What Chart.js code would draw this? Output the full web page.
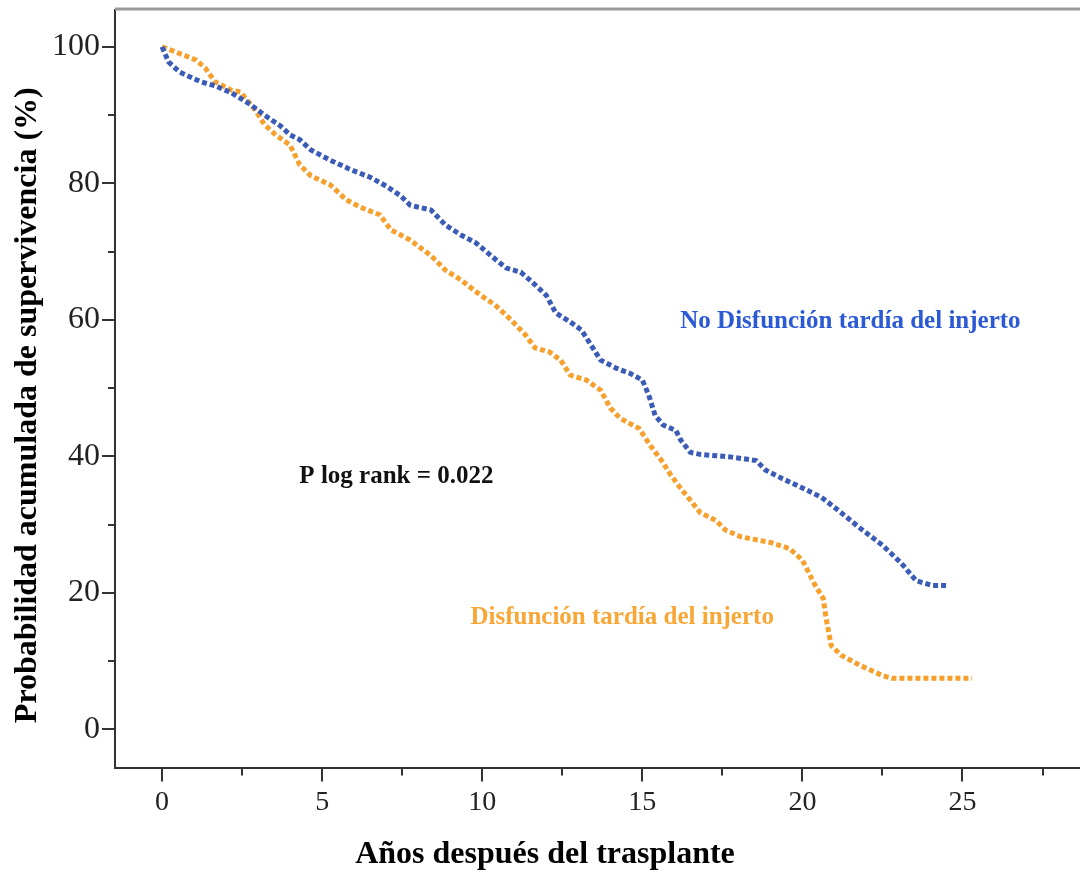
<!DOCTYPE html>
<html>
<head>
<meta charset="utf-8">
<script src="https://cdn.jsdelivr.net/npm/chart.js@4"></script>
<style>
    html, body { margin: 0; padding: 0; background: #fff; }
    #wrap { width: 1080px; height: 872px; }
</style>
</head>
<body>
<div id="wrap"><canvas id="survivalChart"></canvas></div>
<script>
// ===== SURVIVAL CURVES (Kaplan-Meier) =====

// No late graft dysfunction
const noDysfYears = [0, 0.2, 0.55, 1.2, 1.65, 2.15, 2.75, 3.2, 3.7, 4.0, 4.3, 4.65, 5.25, 5.9, 6.5,
    7.0, 7.45, 7.75, 8.4, 8.85, 9.35, 9.8, 10.25, 10.75, 11.2, 11.5, 12.0, 12.3, 12.75, 13.1,
    13.4, 13.7, 14.2, 14.6, 15.0, 15.2, 15.4, 15.65, 16.05, 16.2, 16.5, 16.8, 17.8, 18.55, 18.85,
    19.35, 19.95, 20.6, 21.2, 21.8, 22.5, 23.1, 23.55, 24.05, 24.5];
const noDysfSurv = [100, 97.8, 96.3, 94.9, 94.3, 93.3, 91.6, 90.0, 88.4, 87.1, 86.4, 84.9, 83.4, 82.0, 80.9,
    79.6, 78.2, 76.8, 76.1, 73.9, 72.4, 71.3, 69.5, 67.6, 67.0, 65.8, 63.6, 61.0, 59.7, 58.5,
    56.3, 54.1, 52.9, 52.2, 51.2, 49.0, 46.0, 44.6, 43.8, 42.4, 40.6, 40.3, 39.9, 39.4, 38.0,
    36.8, 35.5, 34.0, 31.8, 29.5, 27.0, 24.3, 21.8, 21.1, 21.1];

// Late graft dysfunction
const dysfYears = [0, 0.4, 1.05, 1.35, 1.65, 2.15, 2.45, 2.6, 2.9, 3.2, 3.55, 4.0, 4.3, 4.65, 5.25,
    5.75, 6.2, 6.8, 7.15, 7.75, 8.4, 8.85, 9.35, 9.95, 10.4, 10.9, 11.35, 11.65, 12.1, 12.45,
    12.75, 13.25, 13.7, 14.0, 14.3, 14.9, 15.25, 15.6, 15.9, 16.2, 16.5, 16.8, 17.3, 17.6, 18.1,
    19.0, 19.6, 20.0, 20.4, 20.65, 20.75, 20.9, 21.2, 21.8, 22.5, 22.8, 25.3];
const dysfSurv = [100, 99.3, 98.1, 96.9, 94.9, 93.7, 93.4, 92.5, 90.8, 88.6, 87.1, 85.6, 82.7, 81.1, 79.8,
    77.6, 76.5, 75.4, 73.2, 71.7, 69.4, 67.3, 65.8, 63.6, 62.2, 60.0, 57.8, 55.9, 55.3, 54.1,
    51.9, 51.2, 49.7, 47.1, 45.6, 44.1, 41.6, 39.4, 37.2, 35.3, 33.6, 31.8, 30.6, 29.2, 28.2,
    27.4, 26.5, 24.8, 21.1, 19.2, 16.0, 12.3, 10.9, 9.4, 7.9, 7.5, 7.5];

const xTicks = [0, 2.5, 5, 7.5, 10, 12.5, 15, 17.5, 20, 22.5, 25, 27.5];
const yTicks = [0, 10, 20, 30, 40, 50, 60, 70, 80, 90, 100];

const xTitle = 'Años después del trasplante';
const yTitle = 'Probabilidad acumulada de supervivencia (%)';

// Text placed inside the plot, anchored in data units
const notes = [
    { text: 'No Disfunción tardía del injerto', x: 21.5, y: 59.8, color: '#2c5ad4' },
    { text: 'Disfunción tardía del injerto', x: 14.37, y: 16.4, color: '#f8a636' },
    { text: 'P log rank = 0.022', x: 7.32, y: 37.1, color: '#111' }
];

const SERIF = "'Liberation Serif', 'Times New Roman', serif";
const toPoints = (xs, ys) => xs.map((x, i) => ({ x, y: ys[i] }));

// minor/major tick marks, top frame line, axis titles and notes
const axisDecor = {
    id: 'axisDecor',
    afterDraw(chart) {
        const { ctx, chartArea, scales, width } = chart;
        ctx.save();

        ctx.strokeStyle = '#999';
        ctx.lineWidth = 3;
        ctx.beginPath();
        ctx.moveTo(chartArea.left, chartArea.top - 1);
        ctx.lineTo(chartArea.right, chartArea.top - 1);
        ctx.stroke();

        ctx.strokeStyle = '#333';
        ctx.lineWidth = 2;
        xTicks.forEach(v => {
            const px = Math.round(scales.x.getPixelForValue(v));
            const len = v % 5 === 0 ? 13 : 7;
            ctx.beginPath();
            ctx.moveTo(px, chartArea.bottom);
            ctx.lineTo(px, chartArea.bottom + len);
            ctx.stroke();
        });
        yTicks.forEach(v => {
            const py = Math.round(scales.y.getPixelForValue(v));
            const len = v % 20 === 0 ? 13 : 7;
            ctx.beginPath();
            ctx.moveTo(chartArea.left, py);
            ctx.lineTo(chartArea.left - len, py);
            ctx.stroke();
        });

        // axis titles: centred on the figure rather than the plot area
        ctx.fillStyle = '#000';
        ctx.font = `bold 32px ${SERIF}`;
        ctx.textAlign = 'center';
        ctx.textBaseline = 'middle';
        ctx.fillText(xTitle, width / 2 + 5, chartArea.bottom + 86);
        ctx.save();
        ctx.translate(28, (chartArea.top + chartArea.bottom) / 2 + 16);
        ctx.rotate(-Math.PI / 2);
        ctx.fillText(yTitle, 0, 0);
        ctx.restore();

        ctx.font = `bold 25px ${SERIF}`;
        notes.forEach(n => {
            ctx.fillStyle = n.color;
            ctx.fillText(n.text, scales.x.getPixelForValue(n.x), scales.y.getPixelForValue(n.y));
        });
        ctx.restore();
    }
};

const ctx = document.getElementById('survivalChart').getContext('2d');
new Chart(ctx, {
    type: 'line',
    data: {
        datasets: [
            {
                label: 'No Disfunción tardía del injerto',
                data: toPoints(noDysfYears, noDysfSurv),
                borderColor: '#3b5cb6',
                borderWidth: 5,
                borderDash: [5, 3],
                pointRadius: 0,
                tension: 0,
                fill: false
            },
            {
                label: 'Disfunción tardía del injerto',
                data: toPoints(dysfYears, dysfSurv),
                borderColor: '#f6a02e',
                borderWidth: 5,
                borderDash: [5, 3],
                pointRadius: 0,
                tension: 0,
                fill: false
            }
        ]
    },
    options: {
        responsive: true,
        maintainAspectRatio: false,
        animation: false,
        layout: { padding: { top: 10, right: 0, bottom: 49, left: 50 } },
        plugins: {
            legend: { display: false },
            tooltip: { enabled: false }
        },
        scales: {
            x: {
                type: 'linear',
                min: -1.47,
                max: 28.67,
                afterBuildTicks: (scale) => { scale.ticks = xTicks.map(v => ({ value: v })); },
                grid: { display: true, drawOnChartArea: false, drawTicks: true, tickLength: 13, color: 'transparent' },
                border: { display: true, color: '#333', width: 2 },
                ticks: {
                    autoSkip: false,
                    maxRotation: 0,
                    padding: 4,
                    color: '#222',
                    font: { family: SERIF, size: 28 },
                    callback: (v) => (v % 5 === 0 ? String(v) : '')
                }
            },
            y: {
                type: 'linear',
                min: -5.7,
                max: 105.4,
                afterBuildTicks: (scale) => { scale.ticks = yTicks.map(v => ({ value: v })); },
                grid: { display: true, drawOnChartArea: false, drawTicks: true, tickLength: 13, color: 'transparent' },
                border: { display: true, color: '#333', width: 2 },
                ticks: {
                    autoSkip: false,
                    padding: 2,
                    color: '#222',
                    font: { family: SERIF, size: 32, lineHeight: 0.5 },
                    callback: (v) => (v % 20 === 0 ? String(v) : '')
                }
            }
        }
    },
    plugins: [axisDecor]
});
</script>
</body>
</html>
